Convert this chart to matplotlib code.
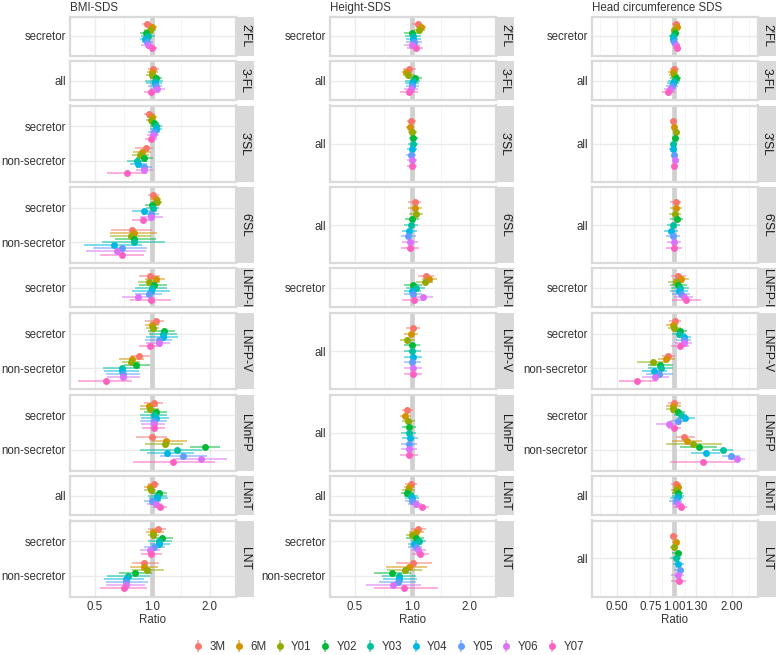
import matplotlib
matplotlib.use("Agg")
import matplotlib.pyplot as plt
from matplotlib.lines import Line2D
import numpy as np

plt.rcParams['font.family'] = ['Liberation Sans', 'DejaVu Sans']

GROUPS = ["3M", "6M", "Y01", "Y02", "Y03", "Y04", "Y05", "Y06", "Y07"]
COLORS = ["#F8766D", "#D39200", "#93AA00", "#00BA38", "#00C19F",
          "#00B9E3", "#619CFF", "#DB72FB", "#FF61C3"]
FACETS = ["2'FL", "3-FL", "3'SL", "6'SL", "LNFP-I", "LNFP-V", "LNnFP", "LNnT", "LNT"]
FACET_UNITS = [1, 1, 2, 2, 1, 2, 2, 1, 2]
TITLES = ["BMI-SDS", "Height-SDS", "Head circumference SDS"]

# (ratio, lower, upper) for 3M ... Y07
# BMI-SDS
BMI_2FL_SEC = [(0.94, 0.88, 1.00), (1.00, 0.95, 1.06), (0.97, 0.91, 1.04), (0.93, 0.86, 1.01), (0.95, 0.87, 1.03),
               (0.92, 0.86, 0.99), (0.94, 0.88, 1.01), (0.95, 0.87, 1.02), (1.00, 0.94, 1.06)]
BMI_3FL_ALL = [(1.01, 0.95, 1.08), (1.00, 0.94, 1.07), (1.00, 0.93, 1.06), (1.05, 0.97, 1.13), (1.03, 0.92, 1.14),
               (1.03, 0.93, 1.13), (1.04, 0.95, 1.12), (1.06, 0.97, 1.16), (0.98, 0.90, 1.07)]
BMI_3SL_SEC = [(0.965, 0.91, 1.03), (1.00, 0.94, 1.06), (0.99, 0.93, 1.05), (1.02, 0.96, 1.09), (1.04, 0.97, 1.12),
               (1.05, 0.97, 1.13), (1.02, 0.95, 1.10), (1.01, 0.94, 1.08), (0.99, 0.92, 1.06)]
BMI_3SL_NON = [(0.93, 0.81, 1.01), (0.88, 0.79, 0.98), (0.865, 0.78, 0.96), (0.91, 0.82, 1.01), (0.83, 0.74, 0.94),
               (0.845, 0.76, 0.94), (0.91, 0.82, 1.00), (0.91, 0.82, 1.01), (0.74, 0.58, 0.94)]
BMI_6SL_SEC = [(1.01, 0.95, 1.08), (1.04, 0.97, 1.11), (1.06, 0.99, 1.13), (1.00, 0.92, 1.08), (1.01, 0.93, 1.09),
               (0.90, 0.78, 1.06), (0.98, 0.88, 1.09), (0.98, 0.86, 1.14), (0.89, 0.78, 1.00)]
BMI_6SL_NON = [(0.78, 0.61, 1.00), (0.80, 0.60, 1.06), (0.77, 0.60, 0.98), (0.80, 0.64, 1.04), (0.80, 0.545, 1.17),
               (0.63, 0.44, 0.88), (0.69, 0.49, 0.94), (0.65, 0.45, 0.93), (0.69, 0.53, 0.90)]
BMI_LNFPI_SEC = [(0.97, 0.85, 1.10), (1.04, 0.92, 1.17), (0.96, 0.84, 1.10), (1.02, 0.85, 1.19), (1.00, 0.81, 1.20),
                 (0.99, 0.78, 1.24), (0.96, 0.81, 1.13), (0.84, 0.69, 1.02), (0.99, 0.76, 1.26)]
BMI_LNFPV_SEC = [(1.04, 0.92, 1.15), (1.00, 0.92, 1.08), (1.01, 0.93, 1.09), (1.15, 0.95, 1.32), (1.14, 0.96, 1.35),
                 (1.14, 0.93, 1.37), (1.08, 0.92, 1.27), (1.08, 0.93, 1.24), (0.975, 0.85, 1.12)]
BMI_LNFPV_NON = [(0.85, 0.77, 0.975), (0.78, 0.67, 0.90), (0.77, 0.69, 0.86), (0.82, 0.71, 0.975), (0.69, 0.55, 0.865),
                 (0.69, 0.56, 0.85), (0.70, 0.57, 0.86), (0.70, 0.58, 0.86), (0.57, 0.41, 0.78)]
BMI_LNNFP_SEC = [(1.02, 0.90, 1.14), (0.96, 0.86, 1.07), (0.97, 0.86, 1.08), (1.05, 0.90, 1.19), (1.02, 0.86, 1.19),
                 (1.05, 0.87, 1.23), (1.02, 0.86, 1.19), (1.02, 0.87, 1.17), (1.02, 0.88, 1.16)]
BMI_LNNFP_NON = [(1.00, 0.82, 1.19), (1.18, 1.00, 1.52), (1.16, 0.92, 1.45), (1.88, 1.57, 2.27), (1.35, 0.86, 1.82),
                 (1.20, 0.94, 1.65), (1.45, 1.10, 1.93), (1.80, 1.29, 2.46), (1.29, 0.79, 2.14)]
BMI_LNNT_ALL = [(1.02, 0.95, 1.09), (0.97, 0.91, 1.04), (0.99, 0.91, 1.05), (1.09, 1.00, 1.19), (1.06, 0.95, 1.19),
                (1.06, 0.96, 1.21), (1.00, 0.90, 1.11), (1.05, 0.94, 1.13), (1.10, 1.01, 1.19)]
BMI_LNT_SEC = [(1.07, 0.95, 1.18), (1.01, 0.93, 1.15), (1.01, 0.95, 1.08), (1.13, 1.00, 1.28), (1.09, 0.95, 1.27),
               (1.09, 0.97, 1.24), (1.02, 0.90, 1.16), (0.97, 0.86, 1.10), (0.99, 0.87, 1.13)]
BMI_LNT_NON = [(0.91, 0.78, 1.09), (0.90, 0.76, 1.07), (0.94, 0.78, 1.15), (0.815, 0.67, 1.00), (0.75, 0.58, 0.975),
               (0.73, 0.56, 0.90), (0.73, 0.57, 0.95), (0.73, 0.57, 0.92), (0.71, 0.53, 0.94)]

# Height-SDS
HGT_2FL_SEC = [(1.07, 1.00, 1.13), (1.11, 1.04, 1.18), (1.09, 1.02, 1.16), (1.00, 0.91, 1.11), (1.01, 0.92, 1.11),
               (1.01, 0.93, 1.11), (1.02, 0.93, 1.12), (1.00, 0.91, 1.10), (1.04, 0.94, 1.14)]
HGT_3FL_ALL = [(0.965, 0.89, 1.04), (0.93, 0.88, 1.00), (0.955, 0.89, 1.03), (1.035, 0.96, 1.13), (1.01, 0.92, 1.10),
               (1.00, 0.92, 1.09), (1.00, 0.93, 1.09), (0.985, 0.90, 1.07), (0.96, 0.86, 1.07)]
HGT_3SL_ALL = [(0.99, 0.94, 1.05), (0.97, 0.93, 1.02), (1.00, 0.95, 1.06), (1.01, 0.96, 1.07), (1.01, 0.95, 1.07),
               (1.00, 0.94, 1.06), (0.985, 0.93, 1.04), (1.00, 0.94, 1.06), (1.00, 0.94, 1.06)]
HGT_6SL_ALL = [(1.03, 0.95, 1.11), (1.03, 0.95, 1.12), (1.05, 0.96, 1.14), (1.00, 0.92, 1.09), (0.98, 0.90, 1.07),
               (0.965, 0.88, 1.06), (0.955, 0.87, 1.05), (0.97, 0.88, 1.07), (0.97, 0.87, 1.08)]
HGT_LNFPI_SEC = [(1.18, 1.07, 1.30), (1.23, 1.12, 1.35), (1.16, 1.04, 1.28), (1.01, 0.91, 1.12), (1.04, 0.93, 1.16),
                 (1.00, 0.90, 1.11), (1.01, 0.90, 1.13), (1.14, 1.00, 1.29), (1.02, 0.88, 1.17)]
HGT_LNFPV_ALL = [(1.01, 0.93, 1.10), (0.98, 0.90, 1.07), (0.94, 0.86, 1.03), (1.00, 0.91, 1.10), (1.00, 0.90, 1.11),
                 (1.01, 0.91, 1.12), (1.00, 0.90, 1.11), (1.01, 0.91, 1.12), (1.01, 0.90, 1.13)]
HGT_LNNFP_ALL = [(0.94, 0.88, 1.01), (0.92, 0.86, 0.99), (0.95, 0.88, 1.03), (0.96, 0.88, 1.05), (0.96, 0.87, 1.05),
                 (0.97, 0.88, 1.07), (0.96, 0.87, 1.06), (0.96, 0.87, 1.06), (0.96, 0.86, 1.07)]
HGT_LNNT_ALL = [(0.99, 0.92, 1.06), (0.96, 0.90, 1.03), (0.95, 0.88, 1.03), (0.94, 0.87, 1.02), (0.98, 0.90, 1.07),
                (1.00, 0.92, 1.09), (1.00, 0.92, 1.09), (1.04, 0.95, 1.13), (1.12, 1.02, 1.22)]
HGT_LNT_SEC = [(1.07, 0.98, 1.18), (1.05, 0.96, 1.15), (1.00, 0.93, 1.09), (1.04, 0.93, 1.15), (1.08, 0.98, 1.18),
               (1.02, 0.95, 1.12), (1.04, 0.95, 1.12), (1.07, 0.98, 1.18), (1.10, 1.00, 1.22)]
HGT_LNT_NON = [(1.01, 0.82, 1.27), (0.965, 0.73, 1.20), (0.915, 0.74, 1.13), (0.78, 0.63, 0.985), (0.85, 0.69, 1.04),
               (0.855, 0.70, 1.06), (0.84, 0.67, 1.04), (0.79, 0.57, 1.11), (0.90, 0.63, 1.36)]

# Head circumference SDS
HC_2FL_SEC = [(1.02, 0.97, 1.07), (1.03, 0.98, 1.08), (1.00, 0.96, 1.05), (1.01, 0.96, 1.06), (0.99, 0.94, 1.04),
              (0.99, 0.95, 1.04), (1.00, 0.95, 1.05), (1.02, 0.97, 1.07), (1.03, 0.98, 1.08)]
HC_3FL_ALL = [(1.00, 0.95, 1.06), (0.98, 0.93, 1.04), (1.00, 0.94, 1.06), (1.02, 0.95, 1.09), (1.00, 0.93, 1.07),
              (0.99, 0.92, 1.06), (0.97, 0.90, 1.04), (0.95, 0.88, 1.02), (0.93, 0.86, 1.01)]
HC_3SL_ALL = [(0.99, 0.96, 1.03), (1.00, 0.96, 1.04), (1.02, 0.98, 1.06), (1.01, 0.97, 1.05), (0.99, 0.95, 1.03),
              (0.98, 0.94, 1.02), (1.00, 0.96, 1.04), (1.01, 0.97, 1.05), (1.00, 0.96, 1.04)]
HC_6SL_ALL = [(1.02, 0.95, 1.09), (1.02, 0.95, 1.10), (1.01, 0.94, 1.09), (1.03, 0.95, 1.11), (0.99, 0.92, 1.07),
              (0.96, 0.88, 1.05), (0.98, 0.90, 1.07), (1.00, 0.92, 1.09), (1.00, 0.91, 1.10)]
HC_LNFPI_SEC = [(1.05, 0.96, 1.15), (1.09, 0.99, 1.20), (1.02, 0.93, 1.12), (1.05, 0.95, 1.16), (1.07, 0.96, 1.19),
                (1.06, 0.95, 1.18), (1.08, 0.97, 1.21), (1.12, 1.00, 1.26), (1.15, 0.97, 1.38)]
HC_LNFPV_SEC = [(1.01, 0.94, 1.08), (0.98, 0.91, 1.05), (1.00, 0.93, 1.08), (1.07, 0.99, 1.16), (1.06, 0.97, 1.15),
                (1.13, 1.03, 1.23), (1.12, 1.02, 1.22), (1.12, 1.01, 1.24), (1.07, 0.96, 1.19)]
HC_LNFPV_NON = [(0.93, 0.86, 1.01), (0.91, 0.82, 1.01), (0.77, 0.64, 0.92), (0.845, 0.73, 0.99), (0.855, 0.73, 0.99),
                (0.786, 0.68, 0.92), (0.83, 0.71, 0.99), (0.795, 0.68, 0.94), (0.64, 0.51, 0.81)]
HC_LNNFP_SEC = [(1.00, 0.93, 1.08), (0.99, 0.91, 1.08), (0.98, 0.90, 1.06), (1.05, 0.96, 1.14), (1.08, 1.00, 1.17),
                (1.14, 1.03, 1.29), (1.04, 0.95, 1.14), (0.94, 0.80, 1.09), (1.00, 0.93, 1.08)]
HC_LNNFP_NON = [(1.13, 1.02, 1.28), (1.17, 0.97, 1.40), (1.26, 0.90, 1.78), (1.34, 1.07, 1.67), (1.81, 1.57, 2.04),
                (1.47, 1.22, 1.74), (1.98, 1.77, 2.22), (2.13, 1.92, 2.36), (1.41, 0.95, 2.08)]
HC_LNNT_ALL = [(1.02, 0.96, 1.08), (1.04, 0.98, 1.10), (1.02, 0.96, 1.08), (1.04, 0.97, 1.11), (1.05, 0.97, 1.13),
               (1.03, 0.95, 1.11), (1.02, 0.94, 1.10), (1.05, 0.97, 1.13), (1.08, 0.99, 1.17)]
HC_LNT_ALL = [(0.99, 0.95, 1.04), (1.02, 0.97, 1.07), (1.00, 0.95, 1.05), (1.04, 0.97, 1.10), (1.02, 0.95, 1.09),
              (1.05, 0.99, 1.12), (1.07, 1.00, 1.13), (1.05, 0.96, 1.12), (1.06, 0.96, 1.15)]

# facet contents per column, categories listed top to bottom
bmi = [[("secretor", BMI_2FL_SEC)], [("all", BMI_3FL_ALL)],
       [("secretor", BMI_3SL_SEC), ("non-secretor", BMI_3SL_NON)],
       [("secretor", BMI_6SL_SEC), ("non-secretor", BMI_6SL_NON)],
       [("secretor", BMI_LNFPI_SEC)],
       [("secretor", BMI_LNFPV_SEC), ("non-secretor", BMI_LNFPV_NON)],
       [("secretor", BMI_LNNFP_SEC), ("non-secretor", BMI_LNNFP_NON)],
       [("all", BMI_LNNT_ALL)],
       [("secretor", BMI_LNT_SEC), ("non-secretor", BMI_LNT_NON)]]
hgt = [[("secretor", HGT_2FL_SEC)], [("all", HGT_3FL_ALL)], [("all", HGT_3SL_ALL)], [("all", HGT_6SL_ALL)],
       [("secretor", HGT_LNFPI_SEC)], [("all", HGT_LNFPV_ALL)], [("all", HGT_LNNFP_ALL)], [("all", HGT_LNNT_ALL)],
       [("secretor", HGT_LNT_SEC), ("non-secretor", HGT_LNT_NON)]]
hc = [[("secretor", HC_2FL_SEC)], [("all", HC_3FL_ALL)], [("all", HC_3SL_ALL)], [("all", HC_6SL_ALL)],
      [("secretor", HC_LNFPI_SEC)],
      [("secretor", HC_LNFPV_SEC), ("non-secretor", HC_LNFPV_NON)],
      [("secretor", HC_LNNFP_SEC), ("non-secretor", HC_LNNFP_NON)],
      [("all", HC_LNNT_ALL)], [("all", HC_LNT_ALL)]]
columns = [bmi, hgt, hc]

XTICKS = [[0.5, 1.0, 2.0], [0.5, 1.0, 2.0], [0.5, 0.75, 1.0, 1.3, 2.0]]
XTICKLABELS = [["0.5", "1.0", "2.0"], ["0.5", "1.0", "2.0"], ["0.50", "0.75", "1.00", "1.30", "2.00"]]
XLIM = (0.37, 2.75)

W, H = 777, 655
fig = plt.figure(figsize=(W / 100, H / 100), dpi=100)

col_left = [70, 330, 592]
panel_w = 166
strip_w = 18
top0 = 16.5
gap = 5.5
unit_h = {1: 39, 2: 76}
dodge = 0.8
fs = 8.3
txt_col = "#333333"


def rect(x0, y0, w, h):
    return [x0 / W, 1 - (y0 + h) / H, w / W, h / H]


def minor_breaks(major):
    lm = np.log10(major)
    mids = (lm[:-1] + lm[1:]) / 2
    step0 = lm[1] - lm[0]
    step1 = lm[-1] - lm[-2]
    allm = np.concatenate([[lm[0] - step0 / 2], mids, [lm[-1] + step1 / 2]])
    vals = 10 ** allm
    return [v for v in vals if XLIM[0] <= v <= XLIM[1]]


for ci, col in enumerate(columns):
    x0 = col_left[ci]
    y = top0
    fig.text(x0 / W, 1 - 8 / H, TITLES[ci], ha="left", va="center", fontsize=fs, color=txt_col)
    for fi, cats in enumerate(col):
        h = unit_h[FACET_UNITS[fi]]
        ax = fig.add_axes(rect(x0, y, panel_w, h))
        n = len(cats)
        ax.set_xscale("log")
        ax.set_xlim(*XLIM)
        ax.set_ylim(0.4, n + 0.6)
        ax.set_xticks(XTICKS[ci])
        ax.set_xticks(minor_breaks(XTICKS[ci]), minor=True)
        ax.set_xticklabels(XTICKLABELS[ci] if fi == len(col) - 1 else [])
        ax.xaxis.set_minor_formatter(matplotlib.ticker.NullFormatter())
        ypos = [n - k for k in range(n)]
        ax.set_yticks(ypos)
        ax.set_yticklabels([c[0] for c in cats])
        ax.grid(which="major", color="#ebebeb", lw=1.0, zorder=0)
        ax.grid(which="minor", axis="x", color="#f3f3f3", lw=0.6, zorder=0)
        ax.set_axisbelow(True)
        ax.tick_params(which="both", length=0, labelsize=fs, colors=txt_col, pad=3)
        for s in ax.spines.values():
            s.set_color("#dadada")
            s.set_linewidth(1.6)
        ax.axvline(1.0, color="#d0d0d0", lw=3.4, zorder=1)
        for k, (name, vals) in enumerate(cats):
            for g, (est, lo, hi) in enumerate(vals):
                yy = ypos[k] + dodge / 2 - (g + 0.5) * dodge / 9
                ax.hlines(yy, lo, hi, color=COLORS[g], lw=1.2, alpha=0.6, zorder=2)
                ax.plot([est], [yy], "o", ms=5, color=COLORS[g], mec="none", zorder=3)
        sax = fig.add_axes(rect(x0 + panel_w, y, strip_w, h))
        sax.set_facecolor("#d9d9d9")
        sax.set_xticks([])
        sax.set_yticks([])
        for s in sax.spines.values():
            s.set_visible(False)
        sax.text(0.5, 0.5, FACETS[fi], rotation=270, ha="center", va="center",
                 fontsize=fs + 0.4, color="#1a1a1a", transform=sax.transAxes)
        y += h + gap
    fig.text((x0 + panel_w / 2) / W, 1 - 620 / H, "Ratio", ha="center", va="center", fontsize=fs, color=txt_col)

handles = [(Line2D([], [], marker="|", ms=9, mew=1.3, color=c, ls="none", alpha=0.6),
            Line2D([], [], marker="o", ms=5, color=c, mec="none", ls="none")) for c in COLORS]
fig.legend(handles, GROUPS, loc="center", bbox_to_anchor=(0.5, 1 - 647 / H), ncol=9, frameon=False,
           handlelength=0.8, handletextpad=0.6, columnspacing=0.75, fontsize=fs, labelcolor=txt_col)

fig.savefig("out.png", dpi=100)
